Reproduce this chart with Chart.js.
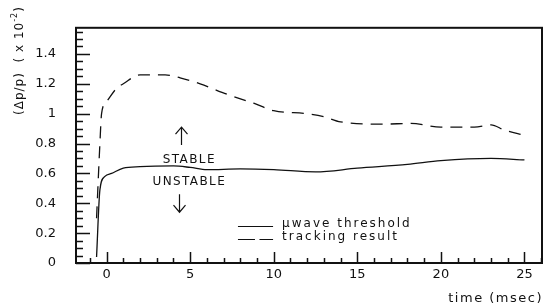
<!DOCTYPE html>
<html>
<head>
<meta charset="utf-8">
<script src="https://cdn.jsdelivr.net/npm/chart.js@4.4.0/dist/chart.umd.min.js"></script>
<style>
  html, body { margin: 0; padding: 0; background: #fff; }
  #wrap { width: 547px; height: 303px; }
</style>
</head>
<body>
<div id="wrap"><canvas id="chart" width="547" height="303"></canvas></div>
<script>
// values (time in msec, dp/p in units of 1e-2)
const thresholdTime  = [-0.6, -0.4, -0.1, 0.3, 1, 2, 4, 5, 6, 8, 10, 12.5, 15, 18, 20, 23, 25];
const thresholdValue = [0.04, 0.49, 0.58, 0.60, 0.635, 0.645, 0.65, 0.64, 0.625, 0.63, 0.625, 0.61, 0.635, 0.66, 0.685, 0.70, 0.69];

const trackingTime  = [-0.6, -0.4, -0.3, 0, 0.6, 1, 2, 3, 3.5, 4.4, 5.6, 7.2, 8.8, 10, 12, 13, 14, 16.6, 18.2, 20, 22, 23, 23.8, 25];
const trackingValue = [0.3, 0.8, 1.0, 1.08, 1.17, 1.2, 1.26, 1.26, 1.26, 1.24, 1.2, 1.13, 1.07, 1.02, 1.0, 0.98, 0.945, 0.93, 0.935, 0.91, 0.91, 0.925, 0.89, 0.855];

const xTicks = [0, 5, 10, 15, 20, 25];
const yTicks = [0, 0.2, 0.4, 0.6, 0.8, 1, 1.2, 1.4];

const seriesNames = ['\u03bcwave threshold', 'tracking result'];

const INK = '#111';
const FONT = '"DejaVu Sans", sans-serif';

function toPoints(xs, ys) {
    return xs.map((x, i) => ({ x: x, y: ys[i] }));
}

// frame, inward tick marks, axis titles and the text notes
const decorations = {
    id: 'decorations',
    afterDraw(chart) {
        const ctx = chart.ctx;
        const a = chart.chartArea;
        const xs = chart.scales.x;
        const ys = chart.scales.y;
        ctx.save();
        ctx.strokeStyle = INK;
        ctx.fillStyle = INK;

        // frame
        ctx.lineWidth = 2;
        ctx.strokeRect(a.left, a.top, a.right - a.left, a.bottom - a.top);

        // y ticks: major every 0.2, minor every 0.05
        ctx.lineWidth = 1.5;
        ctx.beginPath();
        for (let i = 0; i * 0.05 <= ys.max + 1e-9; i++) {
            const y = Math.round(ys.getPixelForValue(i * 0.05)) + 0.5;
            const len = (i % 4 === 0) ? 14 : 7;
            ctx.moveTo(a.left, y);
            ctx.lineTo(a.left + len, y);
        }
        // x ticks: major every 5, minor every 1
        for (let t = Math.ceil(xs.min); t <= xs.max; t++) {
            const x = Math.round(xs.getPixelForValue(t)) + 0.5;
            const len = (t % 5 === 0) ? 11 : 5;
            ctx.moveTo(x, a.bottom);
            ctx.lineTo(x, a.bottom - len);
        }
        ctx.stroke();

        // x title
        ctx.font = '13px ' + FONT;
        ctx.letterSpacing = '1.5px';
        ctx.textAlign = 'right';
        ctx.textBaseline = 'alphabetic';
        ctx.fillText('time (msec)', a.right + 1, 302);

        // y title, rotated, reading upwards
        ctx.save();
        ctx.translate(20, 115);
        ctx.rotate(-Math.PI / 2);
        ctx.textAlign = 'left';
        ctx.textBaseline = 'middle';
        ctx.font = '12px ' + FONT;
        ctx.letterSpacing = '1px';
        let s = '(\u0394p/p)  ( x 10';
        ctx.fillText(s, 0, 0);
        let off = ctx.measureText(s).width;
        ctx.font = '8px ' + FONT;
        ctx.fillText('-2', off, -5);
        off += ctx.measureText('-2').width;
        ctx.font = '12px ' + FONT;
        ctx.fillText(')', off, 0);
        ctx.restore();

        // STABLE / UNSTABLE notes with arrows
        ctx.font = '12px ' + FONT;
        ctx.letterSpacing = '1.4px';
        ctx.textAlign = 'center';
        ctx.textBaseline = 'middle';
        ctx.fillText('STABLE', xs.getPixelForValue(4.95), ys.getPixelForValue(0.69));
        ctx.fillText('UNSTABLE', xs.getPixelForValue(4.95), ys.getPixelForValue(0.54));

        function arrow(xv, y0, y1) {
            const x = Math.round(xs.getPixelForValue(xv)) + 0.5;
            const p0 = ys.getPixelForValue(y0);
            const p1 = ys.getPixelForValue(y1);
            const dir = p1 < p0 ? 1 : -1;
            ctx.beginPath();
            ctx.moveTo(x, p0);
            ctx.lineTo(x, p1);
            ctx.moveTo(x - 6, p1 + dir * 7);
            ctx.lineTo(x, p1);
            ctx.lineTo(x + 6, p1 + dir * 7);
            ctx.lineWidth = 1.2;
            ctx.stroke();
        }
        arrow(4.45, 0.79, 0.91);
        arrow(4.35, 0.46, 0.34);

        // legend
        const lx0 = xs.getPixelForValue(7.86);
        const lx1 = xs.getPixelForValue(9.96);
        const tx = xs.getPixelForValue(10.5);
        const rows = [0.25, 0.158];
        ctx.textAlign = 'left';
        ctx.textBaseline = 'alphabetic';
        ctx.letterSpacing = '2px';
        ctx.lineWidth = 1.2;
        rows.forEach((v, i) => {
            const y = Math.round(ys.getPixelForValue(v)) + 0.5;
            ctx.setLineDash(i === 0 ? [] : [17, 4.5]);
            ctx.beginPath();
            ctx.moveTo(lx0, y);
            ctx.lineTo(lx1, y);
            ctx.stroke();
            ctx.fillText(seriesNames[i], tx, y);
        });
        ctx.setLineDash([]);
        ctx.restore();
    }
};

const ctx = document.getElementById('chart').getContext('2d');
const chart = new Chart(ctx, {
    type: 'line',
    data: {
        datasets: [{
            label: seriesNames[0],
            data: toPoints(thresholdTime, thresholdValue),
            borderColor: INK,
            borderWidth: 1.3,
            pointRadius: 0,
            cubicInterpolationMode: 'monotone',
            fill: false
        }, {
            label: seriesNames[1],
            data: toPoints(trackingTime, trackingValue),
            borderColor: INK,
            borderWidth: 1.3,
            borderDash: [12, 8],
            pointRadius: 0,
            cubicInterpolationMode: 'monotone',
            fill: false
        }]
    },
    options: {
        responsive: false,
        animation: false,
        devicePixelRatio: 1,
        layout: { padding: { left: 0, right: 5, top: 11, bottom: 0 } },
        plugins: {
            legend: { display: false },
            tooltip: { enabled: false }
        },
        scales: {
            x: {
                type: 'linear',
                min: -1.83,
                max: 26.05,
                afterBuildTicks: scale => { scale.ticks = xTicks.map(v => ({ value: v })); },
                afterFit: scale => { scale.height = 40; },
                grid: { display: false, drawTicks: false },
                border: { display: false },
                ticks: {
                    padding: 4,
                    maxRotation: 0,
                    color: INK,
                    font: { family: FONT, size: 13 },
                    callback: v => String(v)
                }
            },
            y: {
                type: 'linear',
                min: 0,
                max: 1.575,
                afterBuildTicks: scale => { scale.ticks = yTicks.map(v => ({ value: v })); },
                afterFit: scale => { scale.width = 76; },
                grid: { display: false, drawTicks: false },
                border: { display: false },
                ticks: {
                    padding: 20,
                    color: INK,
                    font: { family: FONT, size: 13 },
                    callback: v => String(Math.round(v * 100) / 100)
                }
            }
        }
    },
    plugins: [decorations]
});
</script>
</body>
</html>
